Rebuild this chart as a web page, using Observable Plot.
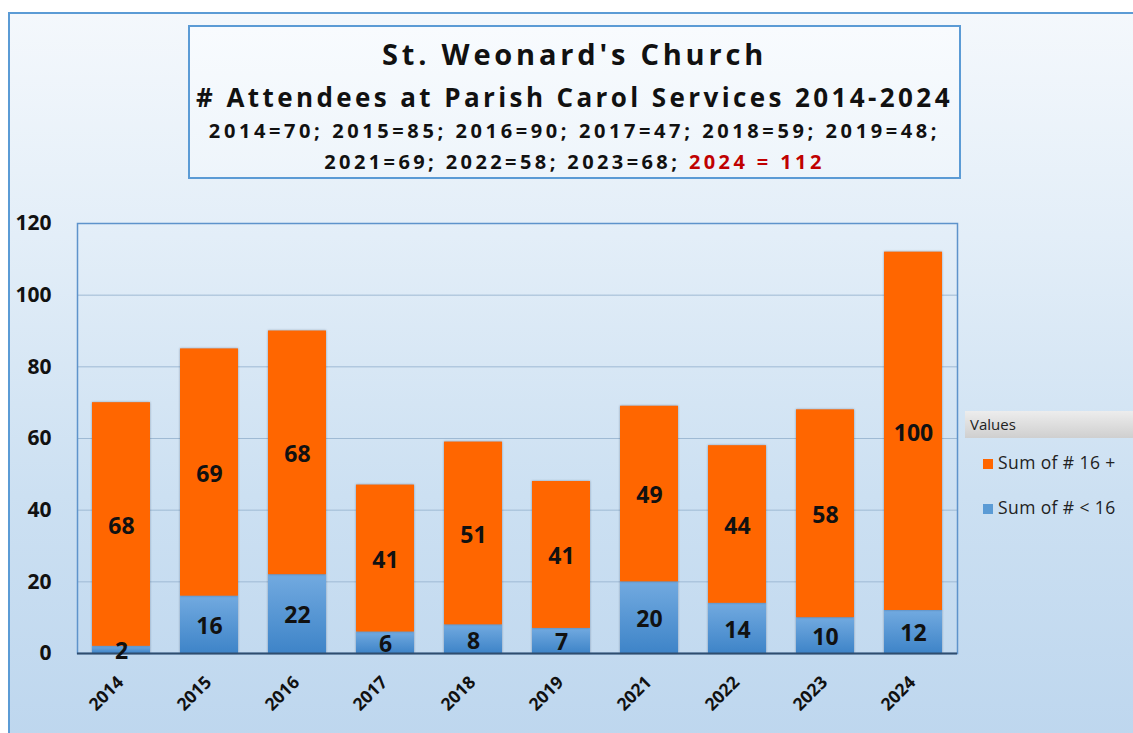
<!DOCTYPE html>
<html>
<head>
<meta charset="utf-8">
<script src="https://cdn.jsdelivr.net/npm/d3@7"></script>
<script src="https://cdn.jsdelivr.net/npm/@observablehq/plot@0.6"></script>
<style>
  html, body { margin:0; padding:0; width:1133px; height:733px; overflow:hidden; background:#fff; }
  #frame { position:absolute; left:8px; top:12px; width:1140px; height:740px; border:2px solid #5B9BD5;
    background:linear-gradient(to bottom, #F4F8FC 0%, #E3EEF8 30%, #CCE0F2 65%, #BDD6EE 100%); }
  #chart { position:absolute; left:0; top:0; }
  #titlebox { position:absolute; left:188px; top:25px; width:769px; height:150px; border:2px solid #5B9BD5;
    background:linear-gradient(to bottom, #F8FBFE, #EEF5FB); }
  .tl { position:absolute; left:0; width:100%; text-align:center; font-family:"Open Sans", sans-serif; font-weight:700; color:#111; white-space:nowrap; }
  #legend { position:absolute; left:965px; top:411px; width:170px; font-family:"Open Sans", sans-serif; color:#222; }
  #legend .hdr { height:27px; line-height:27px; padding-left:5px; font-size:15px; background:linear-gradient(to bottom, #EDEDED, #CFCFCF); }
  .item { position:absolute; left:18px; font-size:17.5px; letter-spacing:0.4px; white-space:nowrap; line-height:20px; }
  .sw { display:inline-block; width:10px; height:10px; margin-right:5px; vertical-align:0px; }
  .bars { filter: drop-shadow(0 0 1.2px rgba(40,60,90,0.45)); }
</style>
</head>
<body>
<svg width="0" height="0" style="position:absolute">
  <defs>
    <linearGradient id="blueGrad" x1="0" y1="0" x2="0" y2="1">
      <stop offset="0%" stop-color="#72AAE0"/>
      <stop offset="100%" stop-color="#3E84C8"/>
    </linearGradient>
  </defs>
</svg>
<div id="frame"></div>
<div id="chart"></div>
<div id="titlebox"></div>
<div id="legend"></div>
<script>
const years = ["2014","2015","2016","2017","2018","2019","2021","2022","2023","2024"];
const under16 = [2,16,22,6,8,7,20,14,10,12];
const over16 = [68,69,68,41,51,41,49,44,58,100];
const yTicks = [0,20,40,60,80,100,120];
const titleLines = [
  "St. Weonard's Church",
  "# Attendees at Parish Carol Services 2014-2024",
  "2014=70; 2015=85; 2016=90; 2017=47; 2018=59; 2019=48;"
];
const line4a = "2021=69; 2022=58; 2023=68; ";
const line4b = "2024 = 112";
const seriesNames = ["Sum of # 16 +", "Sum of # < 16"];
const seriesColors = ["#FF6600", "#5B9BD5"];

const table = years.map((y, i) => ({
  year: y, u: under16[i], o: over16[i],
  uMid: under16[i] / 2, oMid: under16[i] + over16[i] / 2, total: under16[i] + over16[i]
}));

const font = "'Open Sans', sans-serif";
const plot = Plot.plot({
  width: 1133, height: 733,
  marginLeft: 77, marginRight: 176, marginTop: 223, marginBottom: 80,
  x: {domain: years, paddingInner: 0.34, paddingOuter: 0.17, axis: null},
  y: {domain: [0, 120], axis: null},
  style: {background: "transparent", fontFamily: font, overflow: "visible"},
  marks: [
    Plot.gridY(yTicks, {stroke: "#9FBAD4", strokeOpacity: 1, strokeWidth: 1}),
    Plot.frame({stroke: "#5E93CB", strokeWidth: 1.5}),
    Plot.barY(table, {x: "year", y1: 0, y2: "u", fill: "url(#blueGrad)", className: "bars"}),
    Plot.barY(table, {x: "year", y1: "u", y2: "total", fill: "#FF6600", className: "bars"}),
    Plot.ruleY([0], {stroke: "#2F4D6E", strokeWidth: 2}),
    Plot.text(yTicks, {y: d => d, frameAnchor: "left", dx: -26, textAnchor: "end", fontSize: 21, fontWeight: "bold", fill: "#111"}),
    Plot.text(years, {x: d => d, frameAnchor: "bottom", dy: 26, dx: -1, rotate: -45, textAnchor: "end", lineAnchor: "middle", fontSize: 17.5, fontWeight: "bold", fill: "#111"}),
    Plot.text(table, {x: "year", y: "uMid", text: "u", dy: 2, fontSize: 23, fontWeight: "bold", fill: "#111"}),
    Plot.text(table, {x: "year", y: "oMid", text: "o", dy: 2, fontSize: 23, fontWeight: "bold", fill: "#111"})
  ]
});
document.getElementById("chart").appendChild(plot);

// Title box
const tb = document.getElementById("titlebox");
const specs = [
  {c: 27, size: 29, ls: 3.8},
  {c: 70, size: 26, ls: 3.4},
  {c: 104, size: 20, ls: 3.6},
  {c: 135, size: 20, ls: 3.4}
];
specs.forEach((s, i) => {
  const d = document.createElement("div");
  d.className = "tl";
  d.style.top = (s.c - 20) + "px";
  d.style.height = "40px";
  d.style.lineHeight = "40px";
  d.style.fontSize = s.size + "px";
  d.style.letterSpacing = s.ls + "px";
  if (i < 3) d.textContent = titleLines[i];
  else d.innerHTML = line4a + '<span style="color:#C00000">' + line4b.replace(/ /g, "&nbsp;") + '</span>';
  tb.appendChild(d);
});

// Legend
const lg = document.getElementById("legend");
lg.innerHTML = '<div class="hdr">Values</div>';
[{t: 41, i: 0}, {t: 86, i: 1}].forEach(o => {
  const d = document.createElement("div");
  d.className = "item";
  d.style.top = o.t + "px";
  d.innerHTML = '<span class="sw" style="background:' + seriesColors[o.i] + '"></span>' + seriesNames[o.i];
  lg.appendChild(d);
});
</script>
</body>
</html>
